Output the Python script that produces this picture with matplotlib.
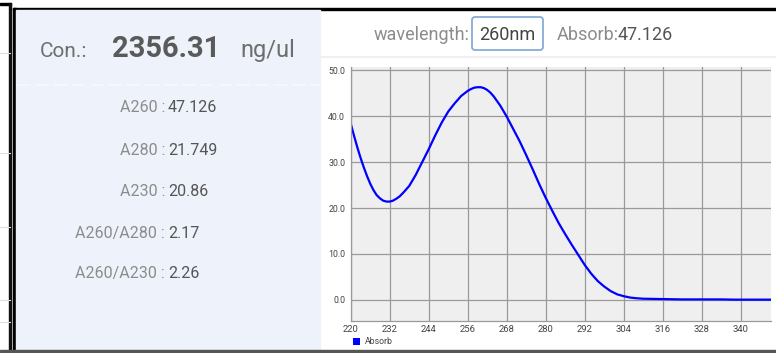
import matplotlib
matplotlib.use('Agg')
import matplotlib.pyplot as plt
from matplotlib.patches import Rectangle, FancyBboxPatch, Patch

plt.rcParams['font.family'] = ['Roboto', 'DejaVu Sans']

# readings shown in the left panel
concentration = '2356.31'
conc_unit = 'ng/ul'
ratio_labels = ['A260', 'A280', 'A230', 'A260/A280', 'A260/A230']
ratio_values = ['47.126', '21.749', '20.86', '2.17', '2.26']

# header
sel_wavelength = '260nm'
sel_absorb = '47.126'

# spectrum
wavelength = [220, 221, 222, 223, 224, 225, 226, 227, 228, 229, 230, 231, 232,
              233, 234, 235, 236, 238, 240, 242, 244, 246, 248, 250, 252, 254,
              256, 257, 258, 259, 260, 261, 262, 263, 264, 266, 268, 270, 272,
              274, 276, 278, 280, 282, 284, 286, 288, 290, 292, 294, 296, 298,
              300, 302, 304, 306, 308, 310, 314, 318, 322, 326, 330, 334, 338,
              342, 346, 349]
absorb = [38.4, 35.8, 33.3, 31.0, 28.9, 27.0, 25.3, 23.9, 22.8, 22.1, 21.6,
          21.4, 21.4, 21.6, 22.0, 22.5, 23.2, 24.8, 27.2, 30.0, 32.8, 35.8,
          38.6, 41.0, 42.8, 44.4, 45.5, 45.9, 46.2, 46.3, 46.3, 46.1, 45.7,
          45.1, 44.3, 42.3, 39.9, 37.2, 34.5, 31.5, 28.4, 25.2, 22.2, 19.4,
          16.7, 14.3, 12.0, 9.8, 7.6, 5.7, 4.1, 2.9, 1.9, 1.2, 0.8, 0.5, 0.35,
          0.25, 0.2, 0.15, 0.1, 0.1, 0.1, 0.1, 0.05, 0.05, 0.05, 0.05]
xticks = list(range(220, 341, 12))
yticks = [0, 10, 20, 30, 40, 50]

W, H = 776, 353
fig = plt.figure(figsize=(W / 100, H / 100), dpi=100)
fig.patch.set_facecolor('white')

# screen furniture, in pixel coords
bg = fig.add_axes([0, 0, 1, 1])
bg.set_xlim(0, W)
bg.set_ylim(H, 0)
bg.axis('off')

for y in [53, 153, 227, 300, 322]:
    bg.plot([0, 10], [y, y], color='#dddddd', lw=0.8)
bg.add_patch(Rectangle((0, 3), 11, 2, color='black'))
bg.add_patch(Rectangle((9, 3), 2, H, color='#111111'))
bg.add_patch(Rectangle((13, 8), 2.5, H, color='black'))
bg.add_patch(Rectangle((13, 8), W, 2, color='black'))
bg.add_patch(Rectangle((15.5, 10), 304.5, 340, color='#eef3fb'))
bg.add_patch(Rectangle((0, 350), W, 3, color='#555555'))
bg.plot([320, W], [57, 57], color='#f0f0f0', lw=1.5)
bg.plot([17, 320], [85, 85], color='#f6f9fd', lw=1.2, ls=(0, (8, 3)))

# left panel text
bg.text(40, 57, 'Con.:', fontsize=15, color='#6e6e6e', va='baseline')
bg.text(112, 57, concentration, fontsize=21, fontweight='bold',
        color='#5a5a5a', va='baseline')
bg.text(240, 57, conc_unit, fontsize=17, color='#6e6e6e', va='baseline')
row_y = [112, 155, 196, 238, 278]
for lab, val, y in zip(ratio_labels, ratio_values, row_y):
    bg.text(165, y, lab + ' :', fontsize=11.5, color='#8c8c8c',
            ha='right', va='baseline')
    bg.text(168, y, val, fontsize=11.5, color='#555555',
            ha='left', va='baseline')

# header text
bg.text(469, 40, 'wavelength:', fontsize=13, color='#8c8c8c',
        ha='right', va='baseline')
bg.add_patch(FancyBboxPatch((472, 17), 71, 33,
                            boxstyle='round,pad=0,rounding_size=3',
                            fc='white', ec='#86abd9', lw=1.3))
bg.text(507.5, 40, sel_wavelength, fontsize=13, color='#444444',
        ha='center', va='baseline')
bg.text(557, 40, 'Absorb:', fontsize=13, color='#8c8c8c', va='baseline')
bg.text(618, 40, sel_absorb, fontsize=13, color='#555555', va='baseline')

# chart
x0, x1, y0, y1 = 350.7, 771, 67, 321
ax = fig.add_axes([x0 / W, 1 - y1 / H, (x1 - x0) / W, (y1 - y0) / H])
ax.set_facecolor('#efefef')
ax.plot(wavelength, absorb, color='#0000ff', lw=1.6, label='Absorb')
ax.set_xlim(220, 349.3)
ax.set_ylim(-4.6, 50.7)
ax.set_xticks(xticks)
ax.set_yticks(yticks)
ax.set_yticklabels(['%.1f' % v for v in yticks])
ax.grid(True, color='#9a9a9a', lw=0.9)
ax.set_axisbelow(True)
for s in ['top', 'right']:
    ax.spines[s].set_visible(False)
for s in ['left', 'bottom']:
    ax.spines[s].set_color('#9a9a9a')
    ax.spines[s].set_linewidth(0.9)
ax.tick_params(axis='x', length=0, pad=3, labelsize=6.8, labelcolor='#444444')
ax.tick_params(axis='y', length=0, pad=4, labelsize=6.3, labelcolor='#444444')

ax.legend(handles=[Patch(facecolor='#0000ff', label='Absorb')],
          loc='upper left', bbox_to_anchor=(353 / W, 1 - 337.5 / H),
          bbox_transform=fig.transFigure, frameon=False, fontsize=6.3,
          handlelength=0.8, handleheight=0.8, handletextpad=0.6,
          borderpad=0, borderaxespad=0, labelcolor='#444444')

fig.savefig('out.png', dpi=100)
